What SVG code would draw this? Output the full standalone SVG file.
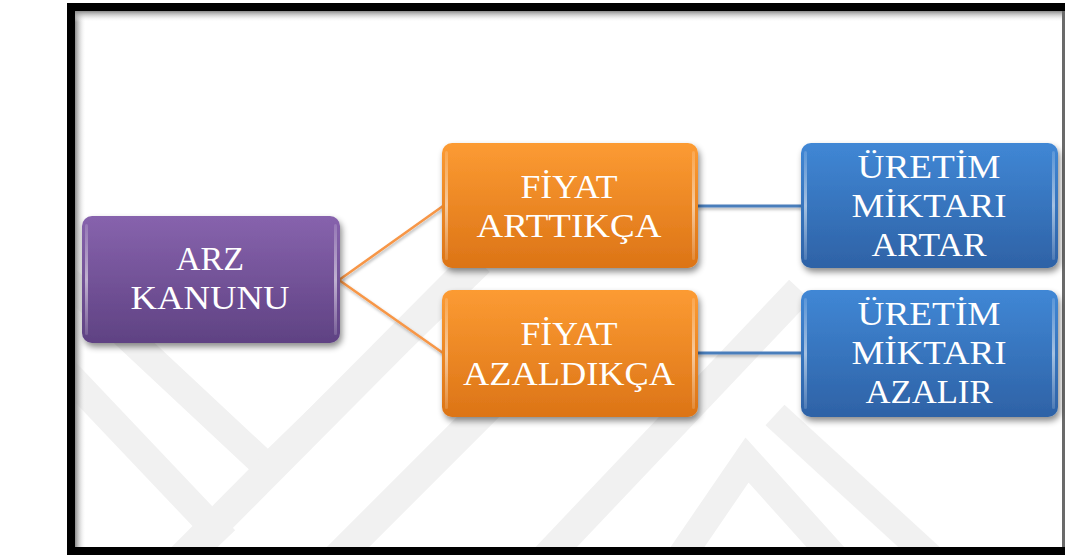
<svg xmlns="http://www.w3.org/2000/svg" width="1065" height="555" viewBox="0 0 1065 555">
  <defs>
    <linearGradient id="gPurple" x1="0" y1="0" x2="0" y2="1">
      <stop offset="0" stop-color="#8763ad"/>
      <stop offset="1" stop-color="#5f4283"/>
    </linearGradient>
    <linearGradient id="gOrange" x1="0" y1="0" x2="0" y2="1">
      <stop offset="0" stop-color="#fc9b33"/>
      <stop offset="1" stop-color="#dc7416"/>
    </linearGradient>
    <linearGradient id="gBlue" x1="0" y1="0" x2="0" y2="1">
      <stop offset="0" stop-color="#4087d5"/>
      <stop offset="1" stop-color="#2e62a6"/>
    </linearGradient>
    <linearGradient id="gShadeL" x1="0" y1="0" x2="1" y2="0">
      <stop offset="0" stop-color="#8a8a8a"/>
      <stop offset="1" stop-color="#ffffff" stop-opacity="0"/>
    </linearGradient>
    <linearGradient id="gShadeT" x1="0" y1="0" x2="0" y2="1">
      <stop offset="0" stop-color="#8a8a8a"/>
      <stop offset="1" stop-color="#ffffff" stop-opacity="0"/>
    </linearGradient>
    <linearGradient id="gEdge" x1="0" y1="0" x2="0" y2="1">
      <stop offset="0" stop-color="#ffffff" stop-opacity="0.15"/>
      <stop offset="0.5" stop-color="#ffffff" stop-opacity="0.55"/>
      <stop offset="1" stop-color="#ffffff" stop-opacity="0.15"/>
    </linearGradient>
    <filter id="shadow" x="-10%" y="-10%" width="125%" height="135%">
      <feDropShadow dx="2" dy="4" stdDeviation="3" flood-color="#000" flood-opacity="0.45"/>
    </filter>
    <filter id="lshadow" x="-5%" y="-50%" width="110%" height="200%">
      <feDropShadow dx="1" dy="2" stdDeviation="1.5" flood-color="#000" flood-opacity="0.3"/>
    </filter>
    <clipPath id="inner">
      <rect x="75" y="11" width="987" height="536"/>
    </clipPath>
  </defs>
  <style>
    .lbl { font-family: "Liberation Serif", "Times New Roman", serif; font-size: 34px; fill: #ffffff; text-anchor: middle; }
    .wm { fill: none; stroke: #f1f1f1; stroke-linejoin: miter; }
    .edge { fill: url(#gEdge); }
    .cOrange { stroke: #f79646; stroke-width: 2.5; fill: none; }
    .cBlue { stroke: #4a7ebb; stroke-width: 3; fill: none; }
  </style>

  <!-- frame -->
  <rect x="0" y="0" width="1065" height="555" fill="#ffffff"/>
  <rect x="67" y="3" width="998" height="552" fill="#000000"/>
  <rect x="75" y="11" width="987" height="536" fill="#ffffff"/>
  <rect x="1062" y="11" width="3" height="536" fill="#6a6a6a"/>

  <!-- watermark -->
  <g id="watermark" clip-path="url(#inner)">
    <polyline class="wm" stroke-width="28" points="40,255 268,468 480,262"/>
    <polyline class="wm" stroke-width="28" points="40,345 225,540"/>
    <polyline class="wm" stroke-width="30" points="160,580 470,268"/>
    <polyline class="wm" stroke-width="30" points="315,580 560,335"/>
    <polyline class="wm" stroke-width="30" points="525,580 800,290"/>
    <polyline class="wm" stroke-width="28" points="665,580 747,460 855,580"/>
    <polyline class="wm" stroke-width="28" points="775,415 955,580"/>
  </g>

  <!-- inner shadow of frame -->
  <rect x="75" y="11" width="11" height="536" fill="url(#gShadeL)"/>
  <rect x="75" y="11" width="987" height="11" fill="url(#gShadeT)"/>

  <!-- connectors -->
  <g id="connectors" filter="url(#lshadow)">
    <line class="cOrange" x1="339" y1="280" x2="443" y2="206"/>
    <line class="cOrange" x1="339" y1="280" x2="443" y2="353"/>
    <line class="cBlue" x1="697" y1="206" x2="802" y2="206"/>
    <line class="cBlue" x1="697" y1="353" x2="802" y2="353"/>
  </g>

  <!-- nodes -->
  <g id="node-arz">
    <rect x="82" y="216" width="258" height="127" rx="10" fill="url(#gPurple)" filter="url(#shadow)"/>
    <rect class="edge" x="85" y="224" width="3" height="111" rx="1.5"/>
    <rect class="edge" x="334" y="224" width="3" height="111" rx="1.5"/>
    <text class="lbl" x="210" y="270" textLength="68" lengthAdjust="spacingAndGlyphs">ARZ</text>
    <text class="lbl" x="210" y="309" textLength="159" lengthAdjust="spacingAndGlyphs">KANUNU</text>
  </g>

  <g id="node-fiyat-artar">
    <rect x="442" y="143" width="256" height="125" rx="10" fill="url(#gOrange)" filter="url(#shadow)"/>
    <rect class="edge" x="445" y="151" width="3" height="109" rx="1.5"/>
    <rect class="edge" x="692" y="151" width="3" height="109" rx="1.5"/>
    <text class="lbl" x="569" y="198" textLength="97" lengthAdjust="spacingAndGlyphs">FİYAT</text>
    <text class="lbl" x="569" y="237" textLength="185" lengthAdjust="spacingAndGlyphs">ARTTIKÇA</text>
  </g>

  <g id="node-fiyat-azal">
    <rect x="442" y="290" width="256" height="127" rx="10" fill="url(#gOrange)" filter="url(#shadow)"/>
    <rect class="edge" x="445" y="298" width="3" height="111" rx="1.5"/>
    <rect class="edge" x="692" y="298" width="3" height="111" rx="1.5"/>
    <text class="lbl" x="569" y="345" textLength="97" lengthAdjust="spacingAndGlyphs">FİYAT</text>
    <text class="lbl" x="569" y="385" textLength="212" lengthAdjust="spacingAndGlyphs">AZALDIKÇA</text>
  </g>

  <g id="node-uretim-artar">
    <rect x="801" y="143" width="257" height="125" rx="10" fill="url(#gBlue)" filter="url(#shadow)"/>
    <rect class="edge" x="804" y="151" width="3" height="109" rx="1.5"/>
    <rect class="edge" x="1052" y="151" width="3" height="109" rx="1.5"/>
    <text class="lbl" x="929" y="178" textLength="143" lengthAdjust="spacingAndGlyphs">ÜRETİM</text>
    <text class="lbl" x="929" y="217" textLength="155" lengthAdjust="spacingAndGlyphs">MİKTARI</text>
    <text class="lbl" x="929" y="256" textLength="115" lengthAdjust="spacingAndGlyphs">ARTAR</text>
  </g>

  <g id="node-uretim-azal">
    <rect x="801" y="290" width="257" height="127" rx="10" fill="url(#gBlue)" filter="url(#shadow)"/>
    <rect class="edge" x="804" y="298" width="3" height="111" rx="1.5"/>
    <rect class="edge" x="1052" y="298" width="3" height="111" rx="1.5"/>
    <text class="lbl" x="929" y="325" textLength="143" lengthAdjust="spacingAndGlyphs">ÜRETİM</text>
    <text class="lbl" x="929" y="364" textLength="155" lengthAdjust="spacingAndGlyphs">MİKTARI</text>
    <text class="lbl" x="929" y="403" textLength="127" lengthAdjust="spacingAndGlyphs">AZALIR</text>
  </g>
</svg>
